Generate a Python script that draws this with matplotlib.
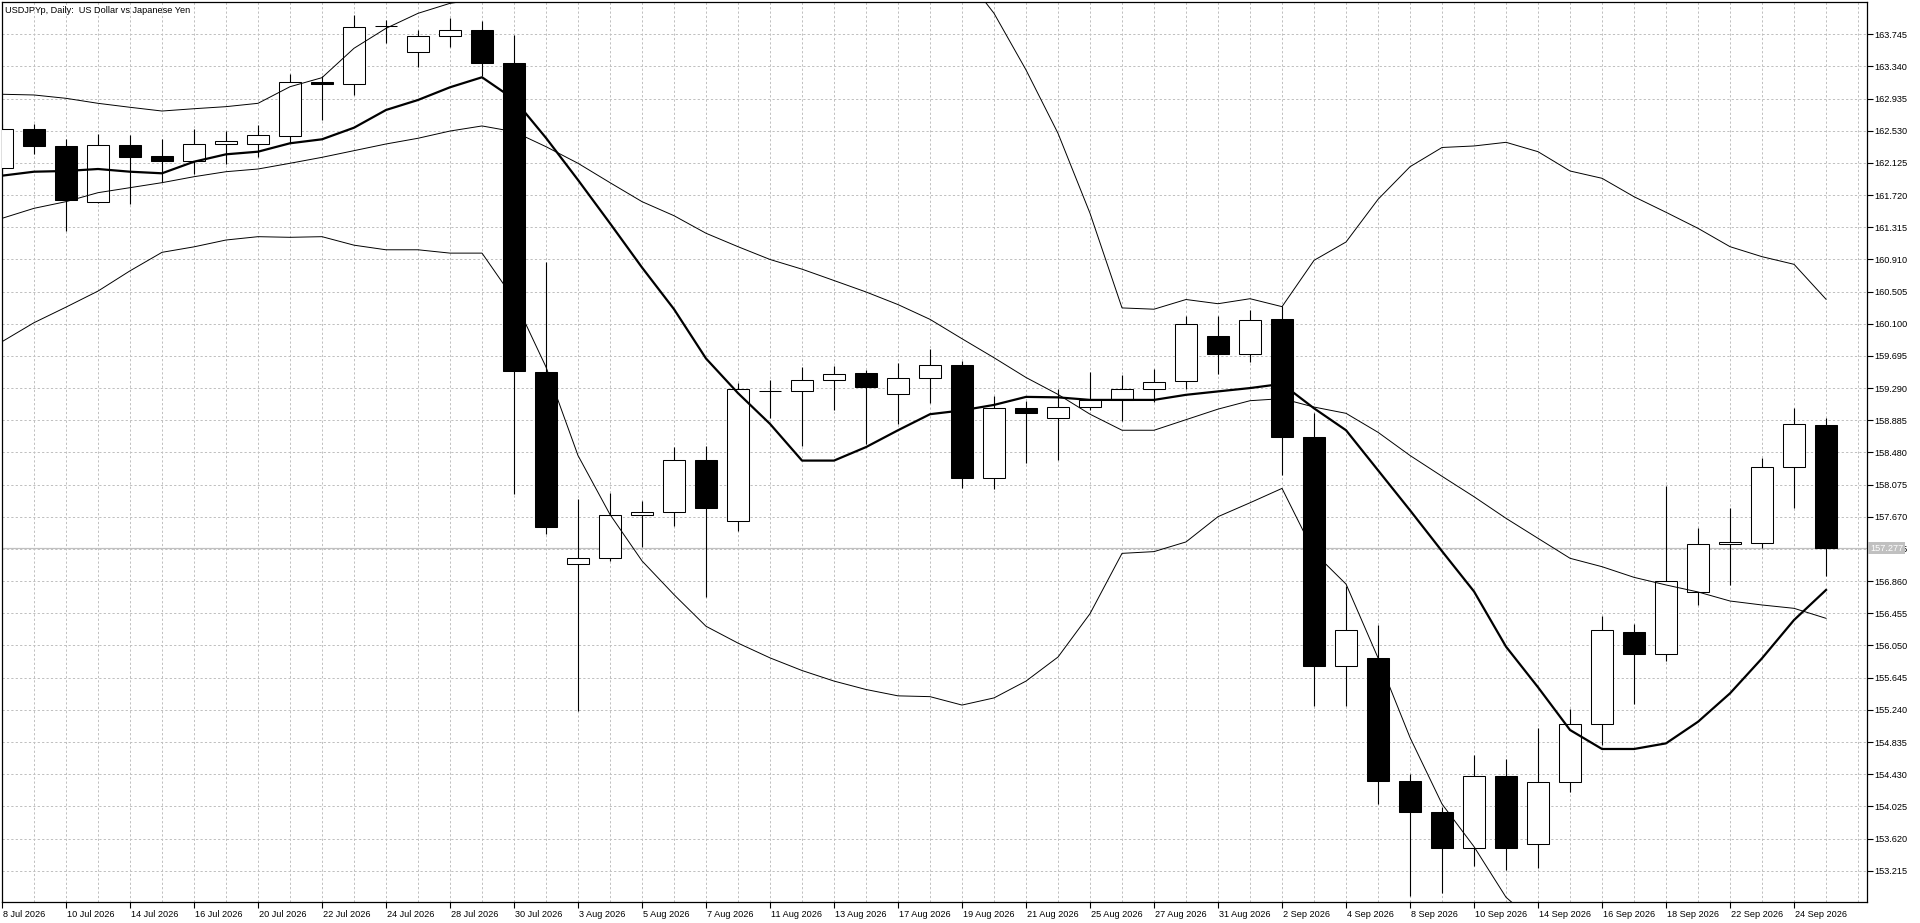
import matplotlib
matplotlib.use('Agg')
import matplotlib.pyplot as plt
import matplotlib.transforms as mtransforms

plt.rcParams['font.family'] = ['Liberation Sans', 'DejaVu Sans']

# bar dates (daily, trading days)
dates = ['8 Jul 2026', '9 Jul 2026', '10 Jul 2026', '13 Jul 2026', '14 Jul 2026', '15 Jul 2026',
         '16 Jul 2026', '17 Jul 2026', '20 Jul 2026', '21 Jul 2026', '22 Jul 2026', '23 Jul 2026',
         '24 Jul 2026', '27 Jul 2026', '28 Jul 2026', '29 Jul 2026', '30 Jul 2026', '31 Jul 2026',
         '3 Aug 2026', '4 Aug 2026', '5 Aug 2026', '6 Aug 2026', '7 Aug 2026', '10 Aug 2026',
         '11 Aug 2026', '12 Aug 2026', '13 Aug 2026', '14 Aug 2026', '17 Aug 2026', '18 Aug 2026',
         '19 Aug 2026', '20 Aug 2026', '21 Aug 2026', '24 Aug 2026', '25 Aug 2026', '26 Aug 2026',
         '27 Aug 2026', '28 Aug 2026', '31 Aug 2026', '1 Sep 2026', '2 Sep 2026', '3 Sep 2026',
         '4 Sep 2026', '7 Sep 2026', '8 Sep 2026', '9 Sep 2026', '10 Sep 2026', '11 Sep 2026',
         '14 Sep 2026', '15 Sep 2026', '16 Sep 2026', '17 Sep 2026', '18 Sep 2026', '21 Sep 2026',
         '22 Sep 2026', '23 Sep 2026', '24 Sep 2026', '25 Sep 2026']

opens = [162.058, 162.553, 162.339, 161.630, 162.351, 162.216, 162.146, 162.360, 162.360, 162.461,
         163.140, 163.115, 163.855, 163.518, 163.720, 163.795, 163.384, 159.498, 157.072, 157.157,
         157.688, 157.725, 158.383, 157.614, 159.259, 159.259, 159.397, 159.477, 159.222, 159.413,
         159.583, 158.160, 159.036, 158.914, 159.058, 159.142, 159.280, 159.376, 159.949, 159.716,
         160.156, 158.681, 155.788, 155.894, 154.349, 153.954, 153.496, 154.407, 153.547, 154.328,
         155.058, 156.216, 155.939, 156.728, 157.324, 157.337, 158.294, 158.822]
highs = [162.620, 162.616, 162.427, 162.490, 162.477, 162.427, 162.557, 162.527, 162.603, 163.245,
         163.220, 163.988, 163.925, 163.799, 163.946, 163.912, 163.740, 160.883, 157.895, 157.964,
         157.874, 158.553, 158.564, 159.360, 159.387, 159.556, 159.567, 159.519, 159.604, 159.779,
         159.636, 159.185, 159.132, 159.280, 159.488, 159.450, 159.530, 160.204, 160.204, 160.273,
         160.326, 158.973, 156.796, 156.303, 154.434, 154.020, 154.671, 154.621, 155.015, 155.250,
         156.425, 156.321, 158.058, 157.529, 157.781, 158.411, 159.040, 158.918]
lows = [161.980, 162.238, 161.272, 161.625, 161.605, 161.882, 161.982, 162.112, 162.196, 162.373,
        162.662, 162.981, 163.639, 163.329, 163.581, 163.220, 157.955, 157.460, 155.220, 157.115,
        157.290, 157.555, 156.658, 157.497, 158.914, 158.564, 159.010, 158.590, 158.835, 159.100,
        158.033, 158.017, 158.352, 158.389, 159.010, 158.877, 159.116, 159.280, 159.472, 159.615,
        158.198, 155.294, 155.294, 154.052, 152.891, 152.930, 153.274, 153.223, 153.245, 154.206,
        154.797, 155.310, 155.858, 156.564, 156.812, 157.281, 157.781, 156.925]
closes = [162.549, 162.342, 161.659, 162.347, 162.204, 162.154, 162.360, 162.398, 162.473, 163.145,
          163.125, 163.837, 163.845, 163.724, 163.795, 163.380, 159.500, 157.539, 157.157, 157.688,
          157.725, 158.383, 157.784, 159.275, 159.259, 159.397, 159.472, 159.302, 159.413, 159.583,
          158.160, 159.036, 158.978, 159.058, 159.142, 159.280, 159.366, 160.103, 159.716, 160.151,
          158.675, 155.788, 156.239, 154.339, 153.951, 153.504, 154.407, 153.504, 154.328, 155.058,
          156.241, 155.939, 156.866, 157.324, 157.349, 158.294, 158.835, 157.277]

ma = [161.965, 162.015, 162.024, 162.049, 162.015, 161.995, 162.141, 162.234, 162.267, 162.373,
      162.423, 162.569, 162.792, 162.918, 163.078, 163.204, 162.928, 162.440, 161.911, 161.365,
      160.809, 160.284, 159.663, 159.227, 158.840, 158.378, 158.378, 158.548, 158.760, 158.962,
      159.010, 159.079, 159.180, 159.174, 159.142, 159.142, 159.142, 159.206, 159.249, 159.291,
      159.344, 159.036, 158.760, 158.256, 157.752, 157.237, 156.730, 156.035, 155.524, 154.986,
      154.747, 154.747, 154.818, 155.090, 155.448, 155.889, 156.371, 156.749]

bb_mid = [161.428, 161.554, 161.638, 161.751, 161.814, 161.877, 161.952, 162.015, 162.049, 162.121,
          162.196, 162.280, 162.364, 162.436, 162.527, 162.591, 162.519, 162.330, 162.121, 161.877,
          161.638, 161.461, 161.240, 161.071, 160.910, 160.788, 160.645, 160.501, 160.342, 160.156,
          159.912, 159.673, 159.424, 159.211, 158.962, 158.760, 158.760, 158.893, 159.026, 159.132,
          159.158, 159.052, 158.973, 158.734, 158.442, 158.180, 157.923, 157.651, 157.399, 157.148,
          157.042, 156.908, 156.812, 156.724, 156.610, 156.560, 156.518, 156.392]
bb_up = [162.990, 162.981, 162.939, 162.876, 162.826, 162.779, 162.808, 162.834, 162.876, 163.085,
         163.199, 163.569, 163.820, 164.009, 164.135, 164.192, 164.627, 165.104, 165.800, 166.055,
         166.161, 166.232, 166.188, 166.062, 165.926, 165.841, 165.688, 165.506, 165.268, 164.906,
         164.530, 164.009, 163.296, 162.498, 161.491, 160.300, 160.284, 160.406, 160.353, 160.416,
         160.316, 160.899, 161.130, 161.667, 162.078, 162.320, 162.339, 162.385, 162.267, 162.024,
         161.932, 161.700, 161.504, 161.302, 161.071, 160.945, 160.849, 160.409]
bb_low = [159.875, 160.114, 160.310, 160.512, 160.767, 161.000, 161.069, 161.155, 161.197, 161.189,
          161.197, 161.090, 161.032, 161.032, 160.990, 160.990, 160.411, 159.556, 158.442, 157.699,
          157.115, 156.690, 156.292, 156.080, 155.894, 155.735, 155.602, 155.496, 155.416, 155.406,
          155.300, 155.390, 155.602, 155.905, 156.451, 157.210, 157.232, 157.354, 157.672, 157.847,
          158.028, 157.221, 156.823, 155.894, 154.891, 154.054, 153.517, 152.880, 152.530, 152.270,
          152.150, 152.120, 152.120, 152.150, 152.150, 152.180, 152.190, 152.380]

price_ticks = [163.745, 163.340, 162.935, 162.530, 162.125, 161.720, 161.315, 160.910, 160.505,
               160.100, 159.695, 159.290, 158.885, 158.480, 158.075, 157.670, 157.265, 156.860,
               156.455, 156.050, 155.645, 155.240, 154.835, 154.430, 154.025, 153.620, 153.215]
last_price = 157.277

fig = plt.figure(figsize=(19.2, 9.23), dpi=100)
ax = fig.add_axes([2 / 1920, 21 / 923, 1865 / 1920, 900 / 923])

x = list(range(len(opens)))
heights = [c - o for o, c in zip(opens, closes)]
colors = ['white' if c >= o else 'black' for o, c in zip(opens, closes)]

# wicks then bodies
ax.vlines(x, lows, highs, color='black', lw=0.8, zorder=3)
ax.bar(x, heights, bottom=opens, width=0.69, color=colors, edgecolor='black',
       linewidth=0.75, zorder=4)

# indicators
ax.plot(x, bb_up, color='black', lw=0.7, zorder=5)
ax.plot(x, bb_mid, color='black', lw=0.7, zorder=5)
ax.plot(x, bb_low, color='black', lw=0.7, zorder=5)
ax.plot(x, ma, color='black', lw=1.6, zorder=6)

# bid line
ax.axhline(last_price, color='#c0c0c0', lw=0.9, zorder=2)

ax.set_xlim(0, 58.28)
ax.set_ylim(152.8206, 164.1516)

# x axis: labels every second bar, grid every bar
ax.set_xticks(x[::2])
ax.set_xticklabels(dates[::2], ha='left', fontsize=6.6)
ax.set_xticks(list(range(0, 59)), minor=True)
ax.tick_params(axis='x', which='major', direction='out', length=4, width=0.8, pad=2)
ax.tick_params(axis='x', which='minor', length=0)
offset = mtransforms.ScaledTranslation(1 / 100, 0, fig.dpi_scale_trans)
for lab in ax.get_xticklabels():
    lab.set_transform(lab.get_transform() + offset)

# y axis on the right
ax.yaxis.tick_right()
ax.set_yticks(price_ticks)
ax.set_yticklabels(['%.3f' % p for p in price_ticks], fontsize=6.6)
ax.tick_params(axis='y', direction='out', length=4, width=0.8, pad=1)

ax.grid(True, which='both', axis='x', color='#c0c0c0', linestyle=(0, (2.2, 2.2)), lw=0.72)
ax.grid(True, which='major', axis='y', color='#c0c0c0', linestyle=(0, (2.2, 2.2)), lw=0.72)
ax.set_axisbelow(True)

for s in ax.spines.values():
    s.set_color('black')
    s.set_linewidth(0.9)

ax.text(0.0015, 0.996, 'USDJPYp, Daily:  US Dollar vs Japanese Yen', transform=ax.transAxes,
        ha='left', va='top', fontsize=6.6, color='black')

trans = mtransforms.blended_transform_factory(ax.transAxes, ax.transData)
ax.text(1.0017, last_price, '157.277', transform=trans, ha='left', va='center', fontsize=6.6,
        color='white', zorder=10, clip_on=False,
        bbox=dict(boxstyle='square,pad=0.2', fc='#c0c0c0', ec='none'))

fig.savefig('out.png', dpi=100)
